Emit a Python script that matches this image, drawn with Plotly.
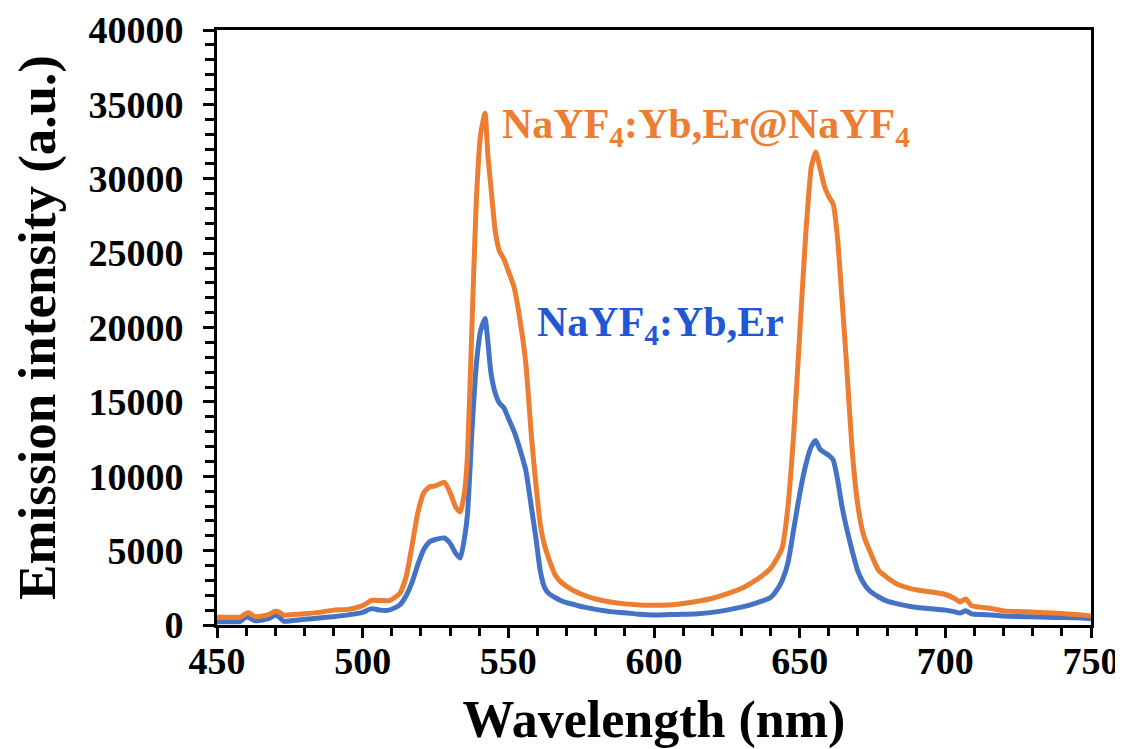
import plotly.graph_objects as go

wavelength = [450,455,458,460,461,463,466,468,470,471,473,476,480,485,490,495,500,503,506,509,511,513,515,517,519,521,523,525,528,530,532,533.5,535,536,537.5,539,540.5,542,543,544,545.5,547,548.5,550,552,554,556,558,559.5,561,562.5,564,566,568,570,573,576,580,585,590,595,600,605,610,615,620,625,630,634,637,640,642,644,646,648,650,652,654,655.5,657,658.5,660,661.5,663,664.5,666,668,670,672,674,677,680,684,688,692,696,700,703,705,707,709,712,716,720,725,730,735,740,745,750]

core_shell = [520,520,530,780,820,560,620,720,930,900,660,700,760,850,1000,1050,1300,1650,1650,1630,1850,2200,3300,5400,7600,8900,9300,9350,9600,8900,7900,7600,9000,11500,20000,28500,33000,34400,31500,29500,26500,25100,24600,23800,22700,20500,17600,12500,9400,6700,5300,4400,3400,2900,2600,2250,2000,1750,1550,1420,1350,1320,1350,1450,1600,1800,2100,2450,2900,3300,3800,4400,5200,8000,13000,19500,26000,30800,31800,30700,29500,28800,28300,26000,22000,17800,11800,8000,6000,5000,3700,3200,2700,2450,2300,2200,2050,1800,1550,1750,1300,1200,1100,950,900,880,820,780,700,600]

core = [220,220,250,550,500,280,350,450,680,600,250,300,380,470,560,680,850,1100,1000,1000,1150,1400,2000,2900,4100,5100,5600,5750,5850,5500,4800,4500,5900,7500,13000,17500,19800,20600,19000,17000,15600,14900,14600,13900,13000,11800,10400,7800,5800,3600,2500,2100,1850,1650,1500,1350,1200,1050,900,820,720,680,700,720,760,850,1000,1200,1400,1600,1850,2300,3000,4200,6500,8800,10700,12000,12400,11800,11600,11400,11100,9800,8000,6600,5000,3600,2800,2300,1900,1600,1400,1250,1150,1080,1000,900,800,950,750,700,680,600,570,550,520,500,480,420]

label_core_shell = "NaYF<sub>4</sub>:Yb,Er@NaYF<sub>4</sub>"
label_core = "NaYF<sub>4</sub>:Yb,Er"

FONT = "Liberation Serif, Times New Roman, serif"
ORANGE = "#ED7D31"
BLUE = "#4472C4"

fig = go.Figure()
fig.add_trace(go.Scatter(x=wavelength, y=core, mode="lines", name="NaYF4:Yb,Er",
                         line=dict(color=BLUE, width=5, shape="spline", smoothing=0.5)))
fig.add_trace(go.Scatter(x=wavelength, y=core_shell, mode="lines", name="NaYF4:Yb,Er@NaYF4",
                         line=dict(color=ORANGE, width=5, shape="spline", smoothing=0.5)))

fig.add_annotation(x=547.2, y=33500, text=label_core_shell, showarrow=False,
                   xanchor="left", yanchor="middle",
                   font=dict(family=FONT, size=42, color=ORANGE, weight=700))
fig.add_annotation(x=559.2, y=20200, text=label_core, showarrow=False,
                   xanchor="left", yanchor="middle",
                   font=dict(family=FONT, size=42, color="#2156D6", weight=700))

fig.update_layout(
    width=1115, height=741,
    margin=dict(l=209, r=32, t=22, b=124),
    paper_bgcolor="white", plot_bgcolor="white",
    showlegend=False,
    font=dict(family=FONT, color="black"),
)
fig.update_xaxes(
    range=[450, 750], dtick=50, tick0=450, automargin=False,
    showgrid=False, zeroline=False,
    showline=True, linecolor="black", linewidth=3, mirror=True,
    ticks="outside", ticklen=10, tickwidth=3, tickcolor="black",
    minor=dict(dtick=10, ticks="outside", ticklen=8, tickwidth=3, tickcolor="black"),
    tickfont=dict(family=FONT, size=38, color="black", weight=700),
    ticklabelstandoff=-10, ticklabeloverflow="allow",
    title=dict(text="Wavelength (nm)", standoff=26,
               font=dict(family=FONT, size=52, color="black", weight=700)),
)
fig.update_yaxes(
    range=[0, 40000], dtick=5000, tickformat="d", automargin=False,
    showgrid=False, zeroline=False,
    showline=True, linecolor="black", linewidth=3, mirror=True,
    ticks="outside", ticklen=11, tickwidth=3, tickcolor="black",
    minor=dict(dtick=1000, ticks="outside", ticklen=9, tickwidth=3, tickcolor="black"),
    tickfont=dict(family=FONT, size=38, color="black", weight=700),
    ticklabelstandoff=12, ticklabeloverflow="allow",
    title=dict(text="Emission intensity (a.u.)", standoff=36,
               font=dict(family=FONT, size=53, color="black", weight=700)),
)

fig.write_html("out.html")
